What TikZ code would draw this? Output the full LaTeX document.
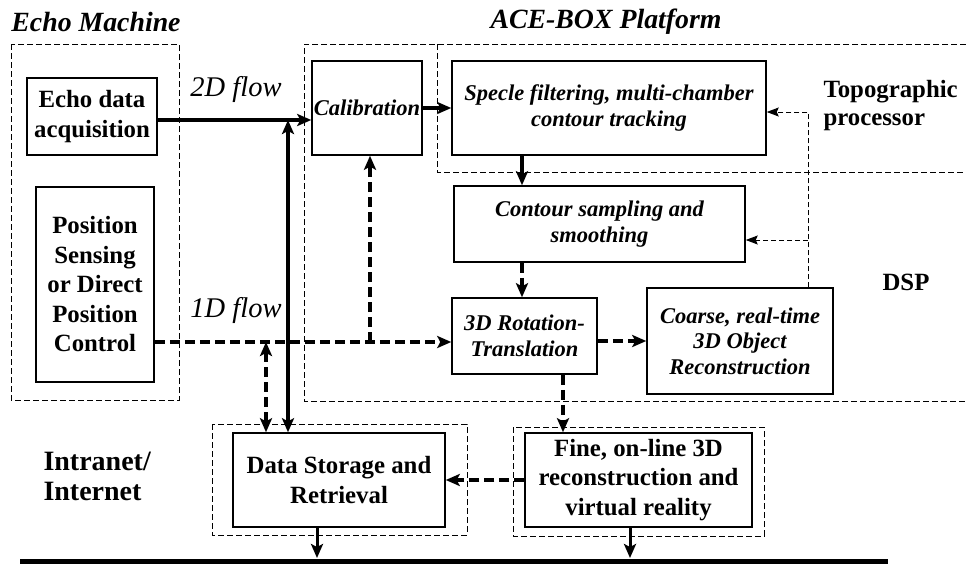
\documentclass[tikz,border=0pt]{standalone}
\usepackage{fontspec}
\setmainfont{Liberation Serif}
\usetikzlibrary{arrows.meta}
\tikzset{
  >={Stealth[length=14pt,width=12pt,inset=3pt]},
  blk/.style={draw, line width=1.5pt, inner sep=0pt, align=center},
  btxt/.style={font=\fontsize{24.8}{29.5}\selectfont\bfseries},
  itxt/.style={font=\fontsize{22.5}{25.5}\selectfont\bfseries\itshape},
  ttl/.style={font=\fontsize{27.8}{30}\selectfont\bfseries\itshape},
  flowlbl/.style={font=\fontsize{28.5}{30}\selectfont\itshape},
  dframe/.style={draw, line width=1pt, dash pattern=on 6pt off 3pt},
  flowline/.style={line width=3.2pt},
  dflowline/.style={line width=3.2pt, dash pattern=on 10pt off 5pt},
  tdash/.style={line width=1pt, dash pattern=on 5pt off 3pt,
    -{Stealth[length=12pt,width=9pt,inset=2pt]}},
  busline/.style={line width=3pt},
}
\begin{document}
\begin{tikzpicture}[x=1pt,y=-1pt]
\useasboundingbox (0,0) rectangle (966,565);
\clip (0,0) rectangle (966,565);

% dashed grouping frames
\draw[dframe] (11,44) rectangle (179,400);
\draw[dframe] (975,44) -| (304,401) -- (975,401);
\draw[dframe] (437,44) -- (437,172) -- (975,172);
\draw[dframe] (212,424) rectangle (467,535);
\draw[dframe] (513,427) rectangle (764,536);

% titles and labels
\node[ttl] (tEcho) at (96,22) {Echo Machine};
\node[ttl] (tAce) at (606,22) {ACE-BOX Platform};
\node[flowlbl] (l2d) at (236,89) {2D flow};
\node[flowlbl] (l1d) at (236,310) {1D flow};
\node[btxt, anchor=west, align=left, font=\fontsize{24.8}{28}\selectfont\bfseries] (ltopo) at (820,106) {Topographic\\processor};
\node[btxt] (ldsp) at (906,282) {DSP};
\node[btxt, anchor=west, align=left, font=\fontsize{28}{30}\selectfont\bfseries] (lnet) at (40,476) {Intranet/\\Internet};

% blocks
\node[blk, btxt, minimum width=130pt, minimum height=77pt] (echo) at (92,116.5) {Echo data\\acquisition};
\node[blk, btxt, minimum width=118pt, minimum height=195pt] (pos) at (95,284.5) {Position\\Sensing\\or Direct\\Position\\Control};
\node[blk, itxt, minimum width=110pt, minimum height=94pt] (cal) at (367,108) {Calibration};
\node[blk, itxt, minimum width=314pt, minimum height=94pt] (spec) at (609,108) {Specle filtering, multi-chamber\\contour tracking};
\node[blk, itxt, minimum width=291pt, minimum height=76pt] (cont) at (599.5,224) {Contour sampling and\\smoothing};
\node[blk, itxt, minimum width=145pt, minimum height=76pt] (rot) at (524.5,336) {3D Rotation-\\Translation};
\node[blk, itxt, minimum width=186pt, minimum height=106pt] (coarse) at (740,341) {Coarse, real-time\\3D Object\\Reconstruction};
\node[blk, btxt, minimum width=212pt, minimum height=94pt] (dat) at (339,480) {Data Storage and\\Retrieval};
\node[blk, btxt, minimum width=227pt, minimum height=94pt] (fine) at (638.5,480) {Fine, on-line 3D\\reconstruction and\\virtual reality};

% helper levels
\coordinate (y2d) at (0,120);
\coordinate (y1d) at (0,342);
\coordinate (y112) at (0,112);
\coordinate (y240) at (0,240);
\coordinate (x266) at (266,0);
\coordinate (x288) at (288,0);
\coordinate (x370) at (370,0);
\coordinate (x522) at (522,0);
\coordinate (x563) at (563,0);
\coordinate (x808) at (808,0);
\coordinate (x317) at (317,0);
\coordinate (x630) at (630,0);
\coordinate (busL) at (20,561);
\coordinate (busR) at (888,561);
\coordinate (busT) at (0,558);

% 2D and 1D flows
\draw[flowline,->] (echo.east |- y2d) -- (cal.west |- y2d);
\draw[flowline,<->] (x288 |- y2d) -- (x288 |- dat.north);
\draw[dflowline,->] (pos.east |- y1d) -- (rot.west |- y1d);
\draw[dflowline,<->] (x266 |- y1d) -- (x266 |- dat.north);
\draw[dflowline,->] (x370 |- y1d) -- (x370 |- cal.south);

% processing chain
\draw[flowline,->] (cal.east) -- (spec.west);
\draw[flowline,->] (x522 |- spec.south) -- (x522 |- cont.north);
\draw[dflowline,->] (x522 |- cont.south) -- (x522 |- rot.north);
\draw[dflowline,->] (rot.east |- coarse.west) -- (coarse.west);
\draw[dflowline,->] (x563 |- rot.south) -- (x563 |- fine.north);
\draw[dflowline,->] (fine.west) -- (dat.east);

% topographic feedback
\draw[tdash] (x808 |- coarse.north) -- (x808 |- y112) -- (spec.east |- y112);
\draw[tdash] (x808 |- y240) -- (cont.east |- y240);

% network bus
\draw[line width=5pt] (busL) -- (busR);
\draw[busline,->] (x317 |- dat.south) -- (x317 |- busT);
\draw[busline,->] (x630 |- fine.south) -- (x630 |- busT);
\end{tikzpicture}
\end{document}
